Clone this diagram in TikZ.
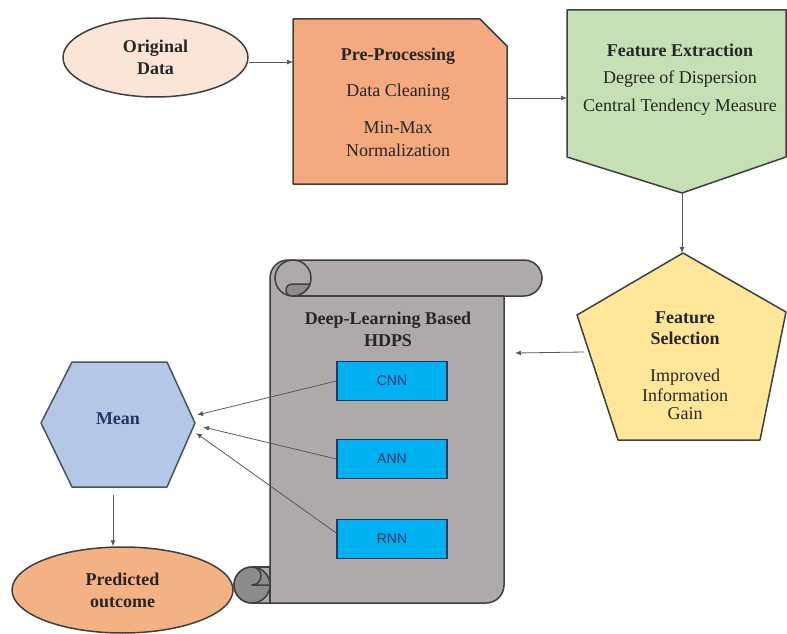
\documentclass[tikz,border=0pt]{standalone}
\usepackage{fontspec}
\setmainfont{Liberation Serif}
\setsansfont{Liberation Sans}
\usetikzlibrary{arrows.meta,shapes.geometric}

\definecolor{ink}{HTML}{262626}
\definecolor{edge}{HTML}{3F3F3F}
\definecolor{connc}{HTML}{595959}
\definecolor{odfill}{HTML}{FBE5D6}
\definecolor{ppfill}{HTML}{F4AA7E}
\definecolor{fefill}{HTML}{C5E0B4}
\definecolor{fsfill}{HTML}{FFE699}
\definecolor{scrollfill}{HTML}{AEAAAA}
\definecolor{scrolldark}{HTML}{8E8B8B}
\definecolor{netfill}{HTML}{00B0F0}
\definecolor{navy}{HTML}{1F3864}
\definecolor{meanfill}{HTML}{B4C7E7}
\definecolor{meanedge}{HTML}{44546A}
\definecolor{predfill}{HTML}{F4B183}

\begin{document}
\begin{tikzpicture}[x=1pt,y=-1pt,
  lbl/.style={font=\fontsize{18}{22}\selectfont, text=ink, inner sep=0, anchor=base},
  lblb/.style={lbl, font=\bfseries\fontsize{18}{22}\selectfont},
  outline/.style={draw=edge, line width=1.5pt, line join=round},
  conn/.style={draw=connc, line width=0.8pt, -{Latex[length=6pt,width=5pt]}},
  netbox/.style={draw=navy, line width=1.5pt, fill=netfill, minimum width=110pt,
    minimum height=39pt, inner sep=0, font=\sffamily\fontsize{14}{16}\selectfont, text=navy},
  blob/.style={ellipse, outline, inner sep=0, align=center, text=ink,
    font=\bfseries\fontsize{18}{22}\selectfont}
]
\useasboundingbox (0,0) rectangle (787,634);

% ---- Original data ----
\node[blob, fill=odfill, minimum width=185pt, minimum height=79pt] (od) at (155.5,57.5) {Original\\Data};

% ---- Pre-processing (snipped corner box) ----
\draw[outline, fill=ppfill] (293,19) -- (480,19) -- (507,46) -- (507,184) -- (293,184) -- cycle;
\coordinate (pp-w) at (293,62);
\coordinate (pp-e) at (507,98);
\node[lblb] (pp-t) at (398,61) {Pre-Processing};
\node[lbl] (pp-a) at (398,96) {Data Cleaning};
\node[lbl] (pp-b) at (398,133) {Min-Max};
\node[lbl] (pp-c) at (398,156) {Normalization};

% ---- Feature extraction (down-pointing pentagon) ----
\draw[outline, fill=fefill] (567,10) -- (786,10) -- (786,157) -- (682,193) -- (567,157) -- cycle;
\coordinate (fe-w) at (567,98);
\coordinate (fe-s) at (682,193);
\node[lblb] (fe-t) at (680,57) {Feature Extraction};
\node[lbl] (fe-a) at (680,84) {Degree of Dispersion};
\node[lbl] (fe-b) at (680,111) {Central Tendency Measure};

% ---- Feature selection (pentagon) ----
\draw[outline, fill=fsfill] (683,253) -- (786,312) -- (760,440) -- (618,440) -- (577,315) -- cycle;
\coordinate (fs-n) at (682,253);
\coordinate (fs-w) at (584,352);
\node[lblb] (fs-t1) at (685,323) {Feature};
\node[lblb] (fs-t2) at (685,344) {Selection};
\node[lbl] (fs-a) at (685,381) {Improved};
\node[lbl] (fs-b) at (685,401) {Information};
\node[lbl] (fs-c) at (685,419) {Gain};

% ---- Scroll holding the networks ----
\draw[outline, fill=scrollfill]
  (288,260) -- (524,260) arc[start angle=-90, end angle=90, radius=18]
  -- (504,296) -- (504,585) arc[start angle=0, end angle=90, radius=18]
  -- (252,603) arc[start angle=90, end angle=270, radius=18]
  -- (270,567) -- (270,278) arc[start angle=180, end angle=270, radius=18] -- cycle;
\draw[outline] (293,296) -- (504,296);
% top-left curl
\draw[outline, fill=scrollfill] (293,278) circle[radius=18];
\draw[outline, fill=scrolldark] (292,284) arc[start angle=270, end angle=90, radius=6]
  -- (293,296) arc[start angle=90, end angle=19.5, radius=18] -- cycle;
% bottom-left curl
\draw[outline, fill=scrolldark] (252,585) circle[radius=18];
\draw[outline] (252,567) arc[start angle=-90, end angle=90, radius=9] -- (270,585);
\draw[outline] (252,567) -- (270,567) -- (270,603);
\coordinate (sc-e) at (515,353);

\node[lblb] (dl-t1) at (388,324) {Deep-Learning Based};
\node[lblb] (dl-t2) at (388,346) {HDPS};

\node[netbox] (cnn) at (392,381) {CNN};
\node[netbox] (ann) at (392,459) {ANN};
\node[netbox] (rnn) at (392,539) {RNN};

% ---- Mean (hexagon) ----
\draw[draw=meanedge, line width=1.5pt, line join=round, fill=meanfill]
  (41,423) -- (72,362) -- (167,362) -- (195,423) -- (167,487) -- (72,487) -- cycle;
\node[lblb, text=navy] (mean) at (118,424) {Mean};
\coordinate (mn-a) at (197,415);
\coordinate (mn-b) at (203,427);
\coordinate (mn-c) at (196,433);
\coordinate (mn-s) at (113,495);

% ---- Predicted outcome ----
\node[blob, fill=predfill, minimum width=221pt, minimum height=86pt] (po) at (122.5,590) {Predicted\\outcome};

% ---- Connectors ----
\draw[conn] (od.east |- pp-w) -- (pp-w);
\draw[conn] (pp-e) -- (fe-w);
\draw[conn] (fe-s) -- (fs-n);
\draw[conn] (fs-w) -- (sc-e);
\draw[conn] (cnn.west) -- (mn-a);
\draw[conn] (ann.west) -- (mn-b);
\draw[conn] (rnn.north west |- 0,533) -- (mn-c);
\draw[conn] (mn-s) -- (po.north -| mn-s);
\end{tikzpicture}
\end{document}
